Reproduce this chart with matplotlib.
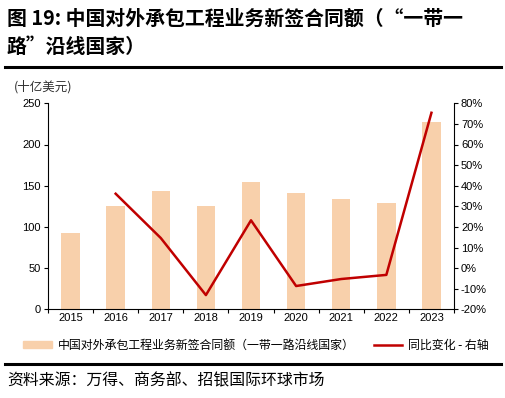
import matplotlib
matplotlib.use("Agg")
import matplotlib.pyplot as plt
import numpy as np
from matplotlib.patches import Patch
from matplotlib.lines import Line2D

years = ["2015", "2016", "2017", "2018", "2019", "2020", "2021", "2022", "2023"]
amount = [93, 125.7, 144, 125.7, 154.9, 141, 134, 129, 227]
yoy_years = ["2016", "2017", "2018", "2019", "2020", "2021", "2022", "2023"]
yoy = [36.1, 14.6, -13.1, 23.2, -8.7, -5.3, -3.3, 75.4]

left_ticks = [0, 50, 100, 150, 200, 250]
right_ticks = [-20, -10, 0, 10, 20, 30, 40, 50, 60, 70, 80]

CJK = ["Noto Sans CJK SC", "DejaVu Sans"]
LAT = ["Liberation Sans", "Noto Sans CJK SC"]
plt.rcParams["font.family"] = LAT

bar_color = "#F8D0AB"
line_color = "#C00000"

fig = plt.figure(figsize=(5.06, 3.98), dpi=100)
W, H = 506, 398
ax = fig.add_axes([48 / W, 1 - 309.3 / H, (454 - 48) / W, (309.3 - 103.3) / H])

x = np.arange(len(years))
ax.bar(x, amount, width=0.41, color=bar_color, zorder=2)
ax.set_xlim(-0.5, len(years) - 0.5)
ax.set_ylim(0, 250)
ax.set_yticks(left_ticks)
ax.set_yticklabels([str(t) for t in left_ticks], fontsize=8)
ax.set_xticks(np.arange(len(years) + 1) - 0.5)
ax.set_xticklabels([])
ax.set_xticks(x, minor=True)
ax.set_xticklabels(years, minor=True, fontsize=8)
ax.tick_params(axis="x", which="minor", length=0, pad=3)
ax.tick_params(axis="x", which="major", direction="out", length=3, width=0.8)
ax.tick_params(axis="y", direction="out", length=3, width=0.8, pad=2)
for s in ["top", "right"]:
    ax.spines[s].set_visible(False)
ax.spines["left"].set_linewidth(0.8)
ax.spines["bottom"].set_linewidth(0.8)

ax2 = ax.twinx()
xi = [years.index(y) for y in yoy_years]
ax2.plot(xi, yoy, color=line_color, lw=1.8, zorder=3)
ax2.set_ylim(-20, 80)
ax2.set_yticks(right_ticks)
ax2.set_yticklabels([f"{t}%" for t in right_ticks], fontsize=8)
ax2.tick_params(axis="y", direction="out", length=3, width=0.8, pad=2)
for s in ["top", "left", "bottom"]:
    ax2.spines[s].set_visible(False)
ax2.spines["right"].set_linewidth(0.8)

# title
fig.text(7 / W, 1 - 18 / H, "图 19: 中国对外承包工程业务新签合同额（“一带一", family=CJK,
         fontsize=14.3, fontweight="bold", va="center", ha="left")
fig.text(7 / W, 1 - 46 / H, "路”沿线国家）", family=CJK,
         fontsize=14.3, fontweight="bold", va="center", ha="left")
fig.add_artist(Line2D([5 / W, 501 / W], [1 - 67 / H, 1 - 67 / H], color="black", lw=2.2,
                      transform=fig.transFigure))
fig.add_artist(Line2D([5 / W, 501 / W], [1 - 364 / H, 1 - 364 / H], color="black", lw=2.2,
                      transform=fig.transFigure))

fig.text(14 / W, 1 - 87 / H, "(十亿美元)", family=CJK, fontsize=9, va="center", ha="left",
         color="#333333")

handles = [Patch(color=bar_color), Line2D([0], [0], color=line_color, lw=1.8)]
labels = ["中国对外承包工程业务新签合同额（一带一路沿线国家）", "同比变化 - 右轴"]
fig.legend(handles, labels, loc="center", bbox_to_anchor=(256 / W, 1 - 345 / H), ncol=2,
           frameon=False, prop={"family": CJK, "size": 8.6}, handlelength=2.4,
           handleheight=0.5, columnspacing=1.6, handletextpad=0.5)

fig.text(7 / W, 1 - 381 / H, "资料来源：万得、商务部、招银国际环球市场", family=CJK,
         fontsize=11.4, va="center", ha="left")

fig.savefig("out.png", dpi=100)
